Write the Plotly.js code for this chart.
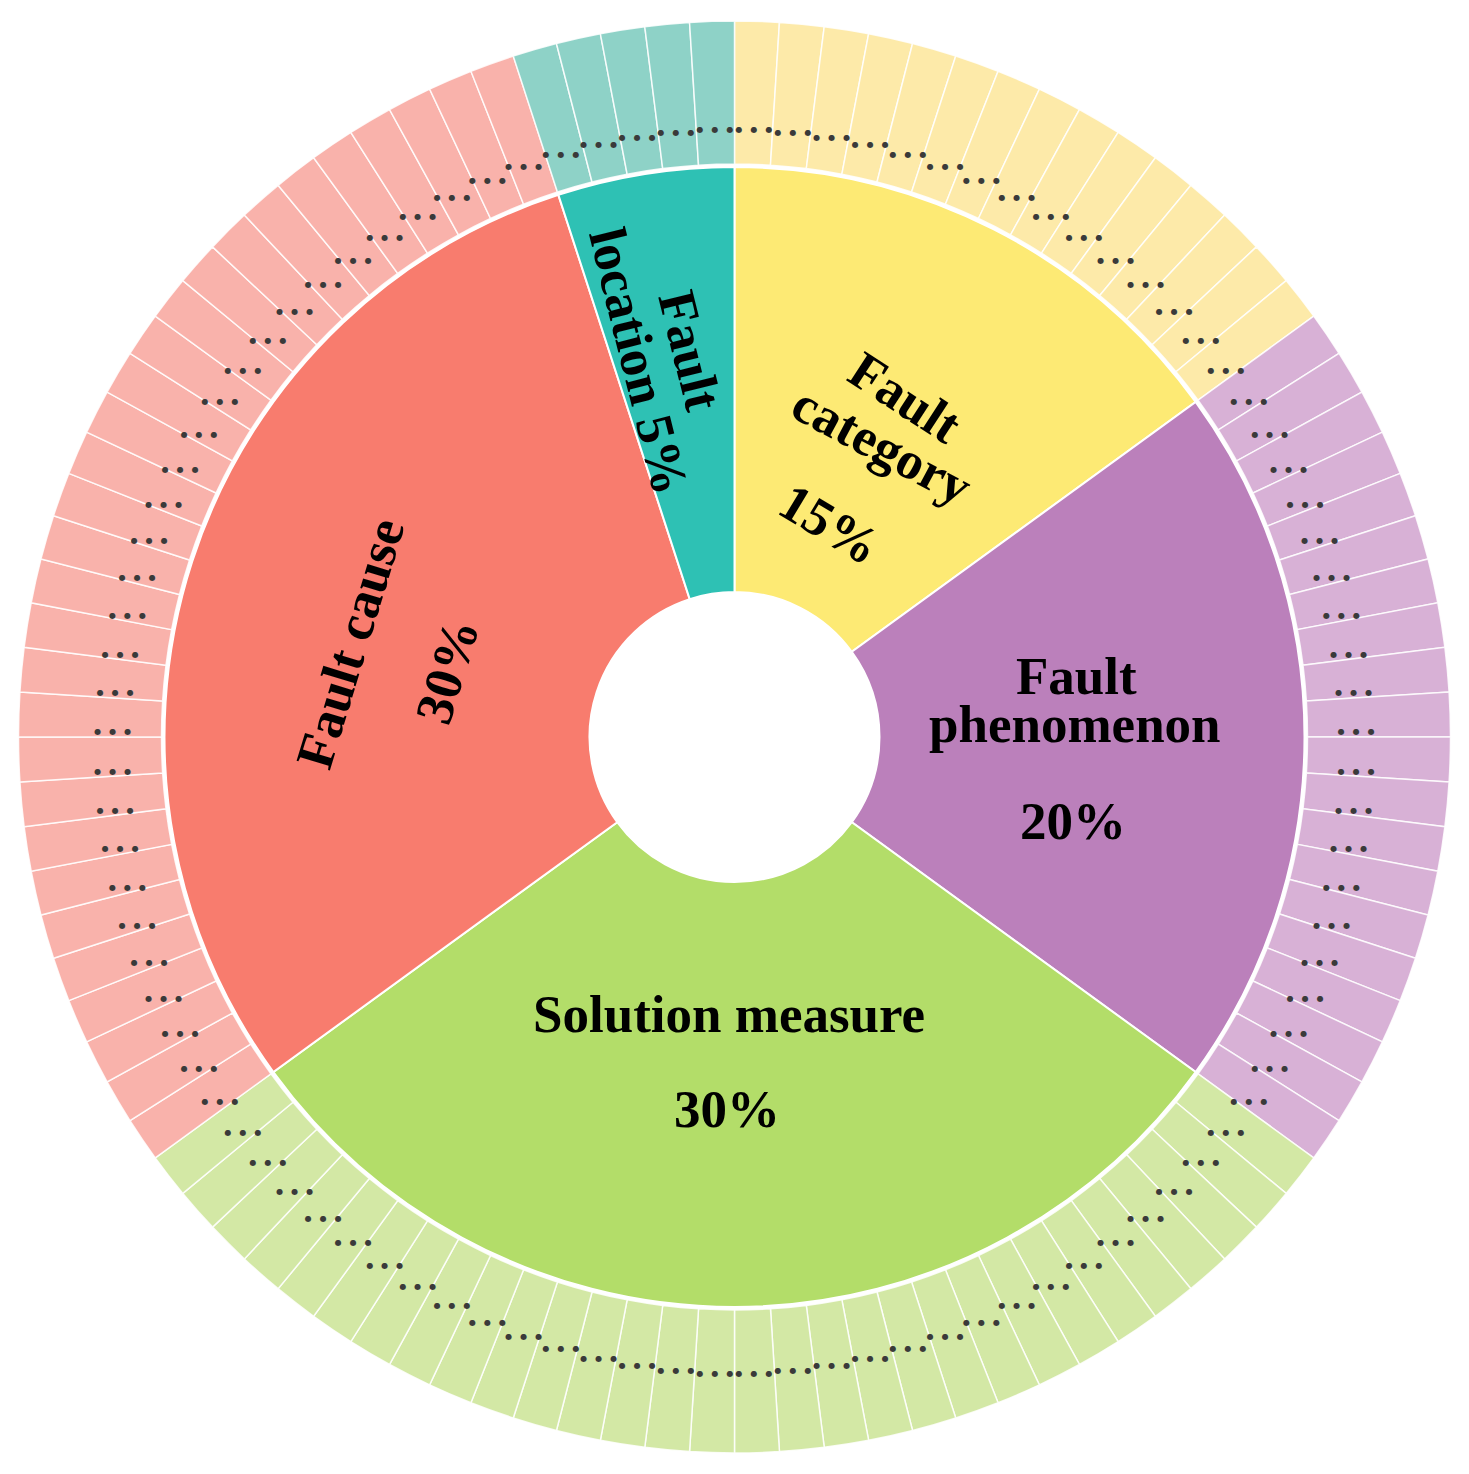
<!DOCTYPE html>
<html>
<head>
<meta charset="utf-8">
<script src="https://cdn.plot.ly/plotly-3.0.1.min.js"></script>
<style>
  html, body { margin: 0; padding: 0; background: #fff; }
  #chart { width: 1469px; height: 1474px; }
</style>
</head>
<body>
<div id="chart"></div>
<script>
// inner ring: knowledge categories and their share (%)
const categories = ['Fault category', 'Fault phenomenon', 'Solution measure', 'Fault cause', 'Fault location'];
const shares = [15, 20, 30, 30, 5];
// outer ring: number of leaf entries per category (each leaf = 1%)
const leafCounts = [15, 20, 30, 30, 5];
const leafLabel = '\u25CF\u2003\u25CF\u2003\u25CF';

const innerColors = ['#fdea74', '#bb80bb', '#b3dd69', '#f87c6e', '#2ec1b4'];
const outerColors = ['#fdeaa9', '#d8b1d6', '#d3e8a5', '#f9b2ab', '#8ed2c7'];

// geometry in pixels (radial axes are set up in pixel units)
const HOLE = 145, INNER_R = 570, OUTER_R = 716, LABEL_R = 622;

// inner ring bars
const innerTheta = [], innerWidth = [];
let acc = 0;
shares.forEach(s => {
    const w = s / 100 * 360;
    innerTheta.push(acc + w / 2);
    innerWidth.push(w);
    acc += w;
});

// outer ring bars
const leafTheta = [], leafWidth = [], leafColors = [], leafText = [];
acc = 0;
shares.forEach((s, i) => {
    const w = s / 100 * 360 / leafCounts[i];
    for (let k = 0; k < leafCounts[i]; k++) {
        leafTheta.push(acc + w / 2);
        leafWidth.push(w);
        leafColors.push(outerColors[i]);
        leafText.push(leafLabel);
        acc += w;
    }
});

const innerTrace = {
    type: 'barpolar',
    theta: innerTheta,
    width: innerWidth,
    r: shares.map(() => INNER_R - HOLE),
    base: HOLE,
    marker: { color: innerColors, line: { color: '#ffffff', width: 2 } },
    text: categories,
    hoverinfo: 'text',
    showlegend: false
};

const outerTrace = {
    type: 'barpolar',
    theta: leafTheta,
    width: leafWidth,
    r: leafTheta.map(() => OUTER_R - INNER_R - 3),
    base: INNER_R + 3,
    marker: { color: leafColors, line: { color: 'rgba(255,255,255,0.85)', width: 1.5 } },
    hoverinfo: 'none',
    showlegend: false
};

// the leaf labels sit on a ring whose centre is a little below the pie centre
const leafTextTrace = {
    type: 'scatterpolar',
    subplot: 'polar2',
    mode: 'text',
    theta: leafTheta,
    r: leafTheta.map(() => LABEL_R),
    text: leafText,
    textfont: { family: 'DejaVu Sans', size: 8, color: '#3a3a3a' },
    hoverinfo: 'none',
    showlegend: false
};

// label placement (pixel centre, rotation)
const labelFont = { family: 'Liberation Serif, Times New Roman, serif', size: 53, color: '#000000' };
const labels = [
    { text: '<b>Fault</b>', px: 905, py: 397, angle: 33 },
    { text: '<b>category</b>', px: 882, py: 445, angle: 28 },
    { text: '<b>15%</b>', px: 830, py: 524, angle: 31 },
    { text: '<b>Fault</b>', px: 690, py: 350, angle: 76 },
    { text: '<b>location 5%</b>', px: 639, py: 361, angle: 76 },
    { text: '<b>Fault cause</b>', px: 350, py: 643, angle: -73 },
    { text: '<b>30%</b>', px: 447, py: 671, angle: -73 },
    { text: '<b>Fault</b>', px: 1076, py: 676, angle: 0 },
    { text: '<b>phenomenon</b>', px: 1075, py: 724, angle: 0 },
    { text: '<b>20%</b>', px: 1073, py: 821, angle: 0 },
    { text: '<b>Solution measure</b>', px: 729, py: 1014, angle: 0 },
    { text: '<b>30%</b>', px: 727, py: 1109, angle: 0 }
];

const W = 1469, H = 1474;
const annotations = labels.map(l => ({
    text: l.text,
    x: l.px / W,
    y: 1 - l.py / H,
    xref: 'paper',
    yref: 'paper',
    xanchor: 'center',
    yanchor: 'middle',
    textangle: l.angle,
    showarrow: false,
    font: labelFont
}));

const hiddenAxes = {
    bgcolor: 'rgba(0,0,0,0)',
    angularaxis: { visible: false, rotation: 90, direction: 'clockwise' }
};

const layout = {
    width: W,
    height: H,
    margin: { l: 0, r: 0, t: 0, b: 0 },
    paper_bgcolor: '#ffffff',
    showlegend: false,
    polar: Object.assign({}, hiddenAxes, {
        domain: { x: [0, 1], y: [0, 1] },
        barmode: 'overlay',
        radialaxis: { visible: false, range: [0, W / 2] }
    }),
    polar2: Object.assign({}, hiddenAxes, {
        domain: { x: [0, 1], y: [0, 1 - 30 / H] },
        radialaxis: { visible: false, range: [0, (H - 30) / 2] }
    }),
    annotations: annotations
};

Plotly.newPlot('chart', [innerTrace, outerTrace, leafTextTrace], layout, { displayModeBar: false, staticPlot: true });
</script>
</body>
</html>
